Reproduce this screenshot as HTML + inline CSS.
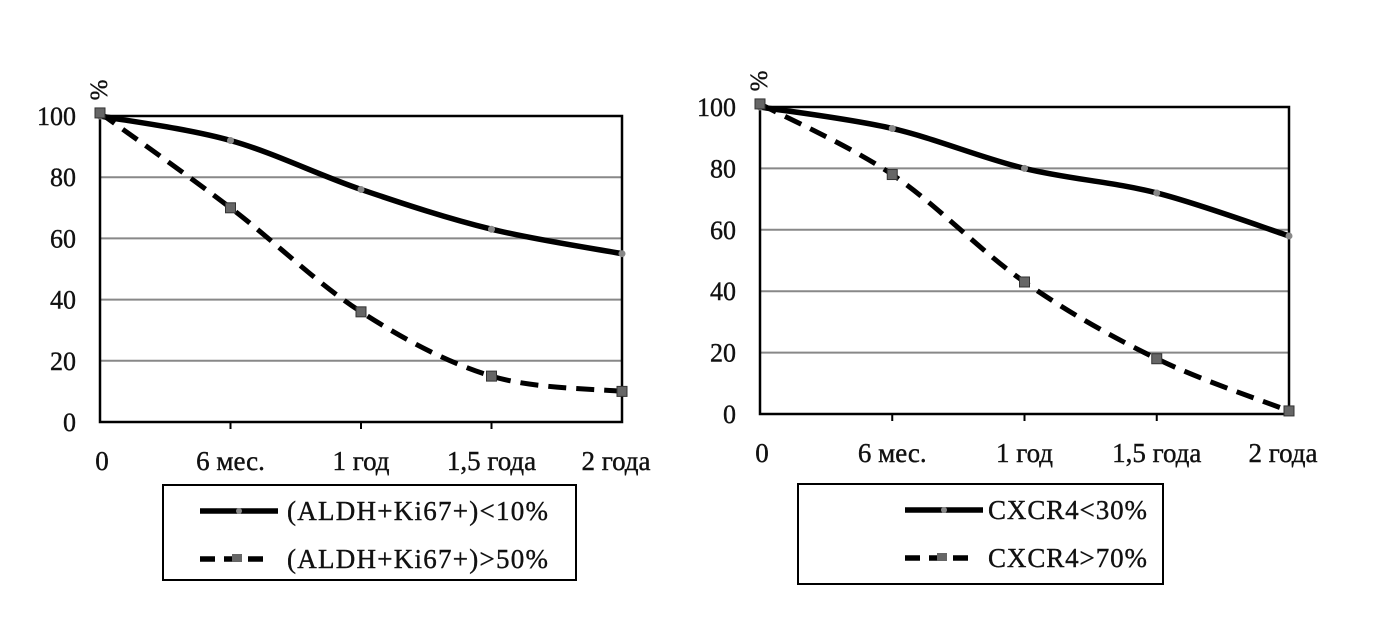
<!DOCTYPE html>
<html><head><meta charset="utf-8"><style>
body{margin:0;background:#fff;}
svg{display:block;font-family:"Liberation Serif",serif;}
text{stroke:#111;stroke-width:0.4;}
</style></head><body>
<svg id="c" width="1379" height="620"></svg>
<script>
const categories=["0","6 мес.","1 год","1,5 года","2 года"];
const yTicks=[0,20,40,60,80,100];
const leftSolid=[100,92,76,63,55];
const leftDashed=[101,70,36,15,10];
const rightSolid=[100,93,80,72,58];
const rightDashed=[101,78,43,18,1];
const leftNames=["(ALDH+Ki67+)<10%","(ALDH+Ki67+)>50%"];
const rightNames=["CXCR4<30%","CXCR4>70%"];

const svg=document.getElementById('c');
const NS="http://www.w3.org/2000/svg";
function mk(tag,attrs,parent){const e=document.createElementNS(NS,tag);for(const k in attrs)e.setAttribute(k,attrs[k]);(parent||svg).appendChild(e);return e;}
function smooth(pts){let d="M"+pts[0][0]+","+pts[0][1];for(let i=0;i<pts.length-1;i++){const p0=pts[Math.max(i-1,0)],p1=pts[i],p2=pts[i+1],p3=pts[Math.min(i+2,pts.length-1)];const c1=[p1[0]+(p2[0]-p0[0])/6,p1[1]+(p2[1]-p0[1])/6],c2=[p2[0]-(p3[0]-p1[0])/6,p2[1]-(p3[1]-p1[1])/6];d+=" C"+c1+" "+c2+" "+p2;}return d;}

function chart(cfg,solid,dashed,names,prefix){
  const g=mk('g',{});
  
  
  const x=i=>cfg.x0+i*(cfg.x1-cfg.x0)/(categories.length-1);
  const y=v=>cfg.y0-v*(cfg.y0-cfg.y1)/100;
  yTicks.forEach(v=>{
    if(v>0&&v<100){const l=mk('line',{x1:cfg.x0,x2:cfg.x1,y1:y(v),y2:y(v),stroke:'#888','stroke-width':2},g);
      
      }
    const t=mk('text',{x:cfg.x0-24,y:y(v)+9,'text-anchor':'end','font-size':26,fill:'#111'},g);t.textContent=v;
    
    
  });
  const fr=mk('rect',{x:cfg.x0,y:y(100),width:cfg.x1-cfg.x0,height:y(0)-y(100),fill:'none',stroke:'#000','stroke-width':2.5},g);
  
  
  categories.forEach((c,i)=>{
    if(i>0&&i<categories.length-1)mk('line',{x1:x(i),x2:x(i),y1:y(0),y2:y(0)+7,stroke:'#000','stroke-width':2},g);
    const t=mk('text',{x:x(i)+(i==0?2:i==4?-6:0),y:y(0)+48,'text-anchor':'middle','font-size':27,fill:'#111'},g);t.textContent=c;
    
    
  });
  const pc=mk('text',{transform:`translate(${cfg.x0+7},${y(100)-26}) rotate(-90)`,'font-size':25,fill:'#111','text-anchor':'middle'},g);pc.textContent='%';
  
  
  const sp=solid.map((v,i)=>[x(i),y(v)]),dp=dashed.map((v,i)=>[x(i),y(v)]);
  const dl=mk('path',{d:smooth(dp),fill:'none',stroke:'#000','stroke-width':5,'stroke-dasharray':'18,10'},g);
  
  
  const sl=mk('path',{d:smooth(sp),fill:'none',stroke:'#000','stroke-width':5.5},g);
  
  
  sp.forEach(p=>{const m=mk('circle',{cx:p[0],cy:p[1],r:3.5,fill:'#888'},g);
    
    });
  dp.forEach(p=>{const m=mk('rect',{x:p[0]-5,y:p[1]-5,width:10,height:10,fill:'#666',stroke:'#333'},g);
    
    });
  const L=cfg.leg;
  const lb=mk('rect',{x:L.x,y:L.y,width:L.w,height:L.h,fill:'none',stroke:'#000','stroke-width':2},g);
  
  
  const r1=L.y+26,r2=L.y+74;
  mk('line',{x1:L.sx,x2:L.sx+78,y1:r1,y2:r1,stroke:'#000','stroke-width':5.5},g);
  mk('circle',{cx:L.sx+39,cy:r1,r:3,fill:'#888'},g);
  mk('line',{x1:L.sx,x2:L.sx+72,y1:r2,y2:r2,stroke:'#000','stroke-width':5.5,'stroke-dasharray':'15,9'},g);
  mk('rect',{x:L.sx+32,y:r2-5,width:10,height:8,fill:'#666'},g);
  [[names[0],r1],[names[1],r2]].forEach(([n,ry],k)=>{const t=mk('text',{x:L.tx,y:ry+9,'font-size':27,fill:'#111',textLength:L.tw,lengthAdjust:'spacing'},g);t.textContent=n;
    
    });
}
chart({x0:100,x1:622,y0:422,y1:116,leg:{x:163,y:485,w:413,h:95,sx:200,tx:287,tw:261}},leftSolid,leftDashed,leftNames,'left');
chart({x0:760,x1:1289,y0:414,y1:107,leg:{x:798,y:484,w:365,h:100,sx:905,tx:988,tw:159}},rightSolid,rightDashed,rightNames,'right');
</script>
</body></html>
